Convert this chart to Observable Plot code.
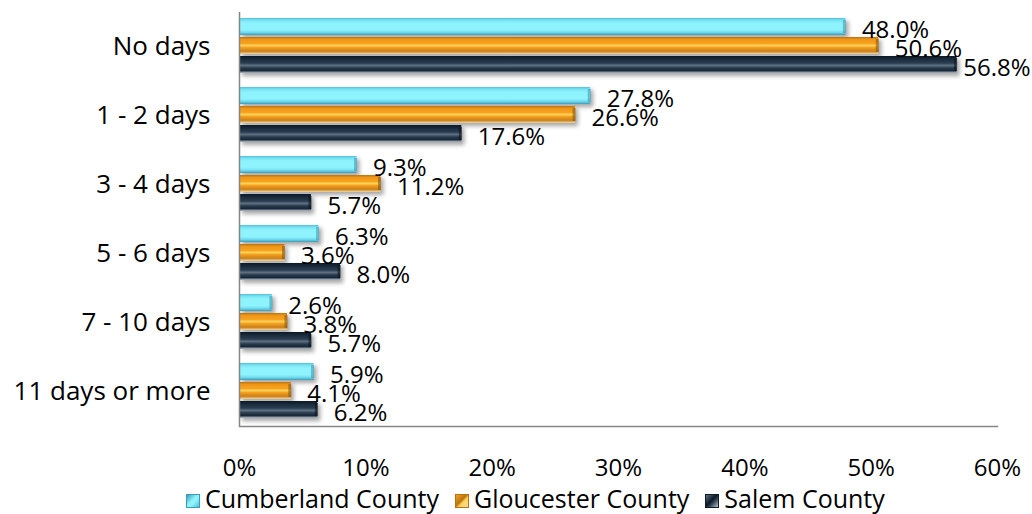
<!DOCTYPE html>
<html>
<head>
<meta charset="utf-8">
<script src="https://cdn.jsdelivr.net/npm/d3@7"></script>
<script src="https://cdn.jsdelivr.net/npm/@observablehq/plot@0.6"></script>
<style>
  html, body { margin: 0; padding: 0; background: #fff; }
  body { width: 1032px; height: 514px; overflow: hidden; font-family: "Open Sans", sans-serif; }
  #chart svg { display: block; }
  g[aria-label="bar"] rect { filter: drop-shadow(3px 3px 2px rgba(0,0,0,0.35)); }
  #legend { position: relative; height: 32px; font-size: 25px; line-height: 32px; color: #000; white-space: nowrap; }
  #legend .items { position: absolute; left: 186px; top: 0; display: flex; align-items: center; }
  #legend .sw { width: 14px; height: 14px; margin-right: 5px; margin-top: 6px; box-sizing: border-box; }
  #legend .lab { margin-right: 16px; }
</style>
</head>
<body>
<div id="chart"></div>
<div id="legend"><div class="items"></div></div>
<script>
const categories = ["No days", "1 - 2 days", "3 - 4 days", "5 - 6 days", "7 - 10 days", "11 days or more"];
const seriesNames = ["Cumberland County", "Gloucester County", "Salem County"];
const cumberland = [48.0, 27.8, 9.3, 6.3, 2.6, 5.9];
const gloucester = [50.6, 26.6, 11.2, 3.6, 3.8, 4.1];
const salem = [56.8, 17.6, 5.7, 8.0, 5.7, 6.2];
const xTicks = [0, 10, 20, 30, 40, 50, 60];

const seriesValues = [cumberland, gloucester, salem];
const rows = [];
categories.forEach((c, i) => {
  seriesNames.forEach((s, j) => rows.push({category: c, series: s, value: seriesValues[j][i]}));
});

const gradIds = ["gCyan", "gOrange", "gDark"];
const gradStops = [
  [[0, "#4fc0da"], [0.12, "#78e2f2"], [0.3, "#8ef3fc"], [0.7, "#8ef3fc"], [0.86, "#6cd6ea"], [1, "#3d9bb5"]],
  [[0, "#b8730f"], [0.14, "#ef9618"], [0.38, "#f7a21e"], [0.5, "#ffd35a"], [0.62, "#f5a01e"], [0.84, "#c98018"], [1, "#f3d9a8"]],
  [[0, "#0c1926"], [0.2, "#1b2c3d"], [0.42, "#2a3d50"], [0.55, "#5f7385"], [0.7, "#2a3b4c"], [0.86, "#17283a"], [1, "#b9c3cd"]]
];
const edgeColors = ["#3d9bb5", "#8a560a", "#0a141e"];

function defsMark() {
  const defs = d3.create("svg:defs");
  gradIds.forEach((id, k) => {
    const g = defs.append("linearGradient").attr("id", id)
      .attr("x1", 0).attr("y1", 0).attr("x2", 0).attr("y2", 1);
    gradStops[k].forEach(([o, c]) => g.append("stop").attr("offset", o).attr("stop-color", c));
  });
  return defs.node();
}

const font = "'Open Sans', sans-serif";

const plot = Plot.plot({
  width: 1032,
  height: 482,
  marginTop: 10,
  marginBottom: 54,
  marginLeft: 239,
  marginRight: 35,
  style: {fontFamily: font, color: "#000", background: "#fff"},
  x: {domain: [0, 60], axis: null},
  fy: {domain: categories, padding: 0, axis: null},
  y: {domain: seriesNames, paddingInner: 0.1, paddingOuter: 0.3, align: 0.4, axis: null},
  color: {domain: seriesNames, range: gradIds.map(id => `url(#${id})`)},
  marks: [
    defsMark,
    Plot.axisFy({anchor: "left", fontSize: 26, tickSize: 0, tickPadding: 29, label: null}),
    Plot.axisX({ticks: xTicks, tickFormat: d => d + "%", tickSize: 0, tickPadding: 32, fontSize: 24, label: null}),
    Plot.barX(rows, {fy: "category", y: "series", x: "value", fill: "series"}),
    Plot.tickX(rows, {fy: "category", y: "series", x: "value", dx: -1.5, strokeWidth: 3,
      stroke: d => edgeColors[seriesNames.indexOf(d.series)], strokeOpacity: 0.6, inset: 2}),
    Plot.ruleX([0], {stroke: "#868686", strokeWidth: 1.5}),
    Plot.frame({anchor: "bottom", facetAnchor: "bottom", stroke: "#868686", strokeWidth: 1.5}),
    Plot.text(rows.filter(d => d.value <= 55), {
      fy: "category", y: "series", x: "value",
      text: d => d.value.toFixed(1) + "%",
      textAnchor: "start", dx: 16, dy: 3, fontSize: 24, fill: "#000"
    }),
    Plot.text(rows.filter(d => d.value > 55), {
      fy: "category", y: "series", frameAnchor: "right",
      text: d => d.value.toFixed(1) + "%",
      textAnchor: "end", dx: 33, dy: 3, fontSize: 24, fill: "#000"
    })
  ]
});
document.getElementById("chart").appendChild(plot);

const swatchCss = [
  "linear-gradient(135deg, #3d9bb5 0%, #8ef3fc 45%, #8ef3fc 60%, #4fc0da 100%)",
  "linear-gradient(135deg, #f7a21e 0%, #b8730f 45%, #ffd35a 60%, #f3d9a8 100%)",
  "linear-gradient(135deg, #5f7385 0%, #0c1926 45%, #2a3d50 60%, #b9c3cd 100%)"
];
const items = d3.select("#legend .items");
seriesNames.forEach((s, k) => {
  items.append("div").attr("class", "sw").style("background", swatchCss[k])
    .style("border", "1px solid " + ["#3d9bb5", "#b8730f", "#0c1926"][k]);
  items.append("div").attr("class", "lab").text(s);
});
</script>
</body>
</html>
